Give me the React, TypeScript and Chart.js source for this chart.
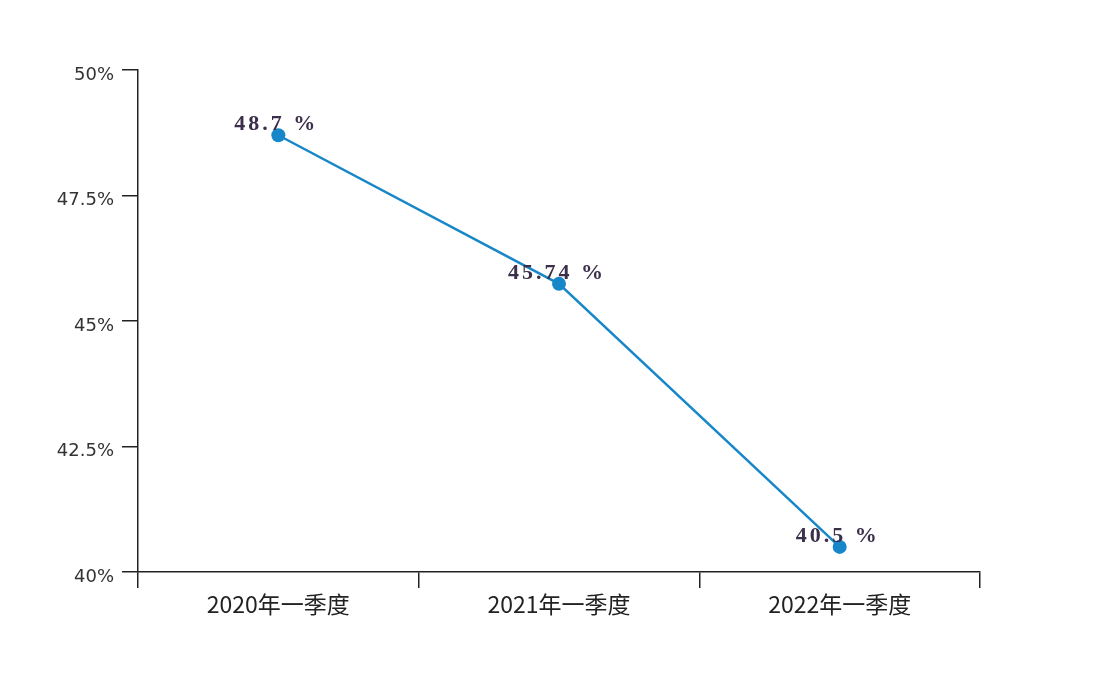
import React, { useEffect, useRef } from "react";
import { Chart, registerables } from "chart.js";

Chart.register(...registerables);

const categories = ["2020年一季度", "2021年一季度", "2022年一季度"];
const values = [48.7, 45.74, 40.5];
const valueLabels = ["48.7 %", "45.74 %", "40.5 %"];
const yTickValues = [40, 42.5, 45, 47.5, 50];

const labelPlugin = {
  id: "valueLabels",
  afterDatasetsDraw(chart: any) {
    const ctx = chart.ctx;
    const meta = chart.getDatasetMeta(0);
    ctx.save();
    ctx.font = "bold 22px 'Liberation Serif'";
    ctx.fillStyle = "#3b2f4a";
    ctx.textAlign = "center";
    ctx.textBaseline = "middle";
    (ctx as any).letterSpacing = "3px";
    meta.data.forEach((pt: any, i: number) => {
      ctx.fillText(valueLabels[i], pt.x - 2, pt.y - 11);
    });
    ctx.restore();
  },
};

export default function App() {
  const ref = useRef<HTMLCanvasElement>(null);
  useEffect(() => {
    if (!ref.current) return;
    const chart = new Chart(ref.current, {
      type: "line",
      data: {
        labels: categories,
        datasets: [
          {
            data: values,
            borderColor: "#1787c9",
            backgroundColor: "#1787c9",
            borderWidth: 2.5,
            pointRadius: 7,
            pointHoverRadius: 7,
            pointBackgroundColor: "#1787c9",
            pointBorderWidth: 0,
            tension: 0,
          },
        ],
      },
      options: {
        animation: false,
        responsive: false,
        maintainAspectRatio: false,
        layout: { padding: { left: 0, top: 70, right: 140, bottom: 0 } },
        plugins: { legend: { display: false }, tooltip: { enabled: false } },
        scales: {
          x: {
            offset: true,
            grid: {
              display: true,
              drawOnChartArea: false,
              drawTicks: true,
              tickLength: 16,
              color: "#222",
              lineWidth: 1.5,
              offset: true,
            },
            border: { display: true, color: "#222", width: 1.5 },
            ticks: {
              color: "#222",
              font: { family: "'Noto Sans CJK SC', sans-serif", size: 23 },
              padding: 2,
            },
            afterFit(scale: any) {
              scale.height = 120;
            },
          },
          y: {
            min: 40,
            max: 50,
            afterBuildTicks(scale: any) {
              scale.ticks = yTickValues.map((v) => ({ value: v }));
            },
            grid: {
              display: true,
              drawOnChartArea: false,
              drawTicks: true,
              tickLength: 16,
              color: "#222",
              lineWidth: 1.5,
            },
            border: { display: true, color: "#222", width: 1.5 },
            ticks: {
              color: "#333",
              font: { family: "'DejaVu Sans', sans-serif", size: 18 },
              padding: 8,
              labelOffset: 5,
              callback: (v: any) => `${v}%`,
            },
            afterFit(scale: any) {
              scale.width = 138;
            },
          },
        },
      },
      plugins: [labelPlugin],
    });
    return () => chart.destroy();
  }, []);
  return (
    <div style={{ position: "fixed", left: 0, top: 0, width: 1120, height: 692, background: "#fff" }}>
      <canvas ref={ref} width={1120} height={692} style={{ display: "block" }} />
    </div>
  );
}
